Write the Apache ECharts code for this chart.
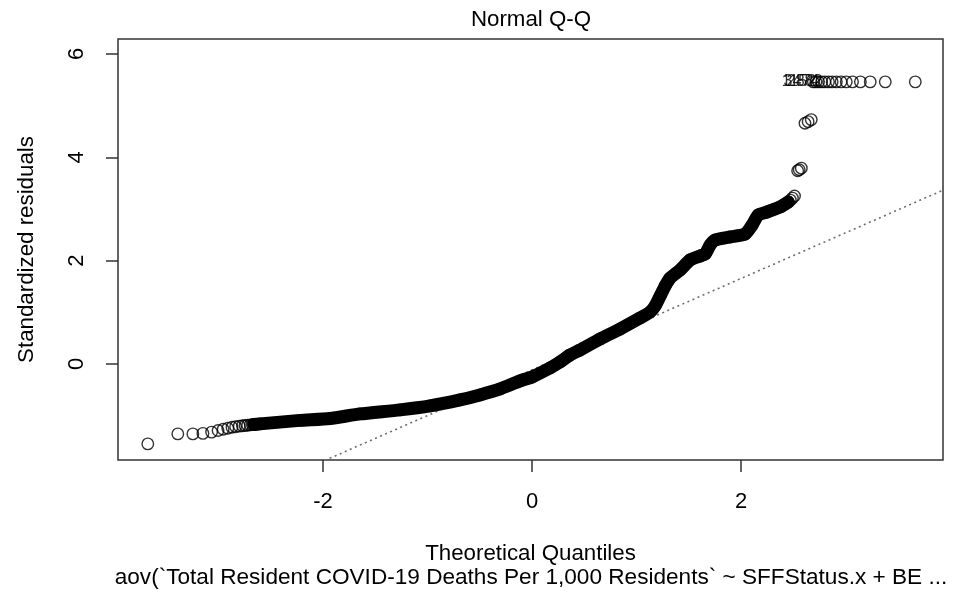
<!DOCTYPE html>
<html>
<head>
<meta charset="utf-8">
<script src="https://cdn.jsdelivr.net/npm/echarts@6/dist/echarts.min.js"></script>
<style>
    html, body { margin: 0; padding: 0; background: #fff; }
    #qq { width: 953px; height: 596px; }
</style>
</head>
<body>
<div id="qq"></div>
<script>
// values (theoretical quantile, standardized residual)

// lower tail, single circles
var lowX = [-3.675, -3.388, -3.244, -3.148, -3.065, -3.003, -2.954, -2.91, -2.87, -2.835, -2.80, -2.77, -2.745, -2.72, -2.695, -2.675, -2.655];
var lowY = [-1.548, -1.355, -1.355, -1.345, -1.32, -1.29, -1.265, -1.245, -1.225, -1.215, -1.205, -1.198, -1.192, -1.186, -1.18, -1.176, -1.172];

// the dense middle, where thousands of circles merge into one band
var bandX = [-2.66, -2.603, -2.22, -1.933, -1.646, -1.263, -0.976, -0.689, -0.498, -0.306, -0.115, 0, 0.172, 0.268, 0.364, 0.459, 0.651, 0.842, 1.033, 1.129, 1.177, 1.225, 1.273, 1.321, 1.416, 1.512, 1.608, 1.656, 1.703, 1.751, 1.895, 2.038, 2.105, 2.163, 2.249, 2.373, 2.45];
var bandY = [-1.172, -1.161, -1.093, -1.055, -0.968, -0.89, -0.813, -0.697, -0.6, -0.484, -0.329, -0.252, -0.077, 0.039, 0.174, 0.271, 0.484, 0.677, 0.89, 1.006, 1.123, 1.316, 1.51, 1.664, 1.819, 2.013, 2.09, 2.129, 2.303, 2.4, 2.458, 2.516, 2.69, 2.884, 2.942, 3.039, 3.135];

// upper tail, single circles and small clusters
var highX = [2.47, 2.49, 2.51, 2.54, 2.555, 2.575, 2.61, 2.64, 2.67,
             2.69, 2.715, 2.74, 2.77, 2.80, 2.835, 2.87, 2.91, 2.955, 3.005, 3.065, 3.14, 3.234, 3.378, 3.665];
var highY = [3.17, 3.21, 3.25, 3.74, 3.76, 3.79, 4.66, 4.69, 4.73,
             5.46, 5.46, 5.46, 5.46, 5.46, 5.46, 5.46, 5.46, 5.46, 5.46, 5.46, 5.46, 5.46, 5.46, 5.46];

// labelled extreme points
var idLabels = ['1152', '3474', '2882'];
var idX = [2.74, 2.77, 2.80];
var idY = [5.46, 5.46, 5.46];

// dotted qqline
var lineIntercept = -0.115;
var lineSlope = 0.885;

var xTicks = [-2, 0, 2];
var yTicks = [0, 2, 4, 6];

var font = '"Liberation Sans", Arial, sans-serif';

function pairs(xs, ys) {
    return xs.map(function (x, i) { return [x, ys[i]]; });
}

var xMin = -3.96, xMax = 3.93;

var chart = echarts.init(document.getElementById('qq'));

var option = {
    animation: false,
    grid: {
        left: 118, right: 10, top: 39, bottom: 136,
        show: true,
        borderColor: '#333',
        borderWidth: 1.5
    },
    xAxis: {
        type: 'value',
        min: xMin,
        max: xMax,
        axisLine: { show: false, onZero: false },
        splitLine: { show: false },
        axisTick: {
            customValues: xTicks,
            length: 12,
            lineStyle: { color: '#333', width: 1.5 }
        },
        axisLabel: {
            customValues: xTicks,
            margin: 31,
            fontSize: 22,
            fontFamily: font,
            color: '#000'
        },
        name: 'Theoretical Quantiles',
        nameLocation: 'middle',
        nameGap: 83,
        nameTextStyle: { fontSize: 22.3, fontFamily: font, color: '#000' }
    },
    yAxis: {
        type: 'value',
        min: -1.86,
        max: 6.29,
        axisLine: { show: false, onZero: false },
        splitLine: { show: false },
        axisTick: {
            customValues: yTicks,
            length: 12,
            lineStyle: { color: '#333', width: 1.5 }
        },
        axisLabel: {
            customValues: yTicks,
            rotate: 90,
            margin: 30,
            fontSize: 22,
            fontFamily: font,
            color: '#000'
        },
        name: 'Standardized residuals',
        nameLocation: 'middle',
        nameGap: 80,
        nameTextStyle: { fontSize: 22.3, fontFamily: font, color: '#000' }
    },
    graphic: [
        {
            type: 'text', x: 531, y: 20,
            style: {
                text: 'Normal Q-Q', textAlign: 'center', textVerticalAlign: 'middle',
                font: '22.3px ' + font, fill: '#000'
            }
        },
        {
            type: 'text', x: 531, y: 578,
            style: {
                text: 'aov(`Total Resident COVID-19 Deaths Per 1,000 Residents` ~ SFFStatus.x + BE ...',
                textAlign: 'center', textVerticalAlign: 'middle',
                font: '22.6px ' + font, fill: '#000'
            }
        }
    ],
    series: [
        {
            // qqline
            type: 'line',
            data: [[xMin, lineIntercept + lineSlope * xMin], [xMax, lineIntercept + lineSlope * xMax]],
            symbol: 'none',
            clip: true,
            lineStyle: { color: '#6e6e6e', width: 1.6, type: [2, 3.5] },
            z: 1
        },
        {
            type: 'line',
            data: pairs(bandX, bandY),
            symbol: 'none',
            smooth: 0.2,
            lineStyle: { color: '#000', width: 13, cap: 'round', join: 'round' },
            z: 2
        },
        {
            type: 'scatter',
            data: pairs(lowX, lowY).concat(pairs(bandX, bandY), pairs(highX, highY)),
            symbol: 'circle',
            symbolSize: 11.5,
            itemStyle: { color: 'rgba(0,0,0,0)', borderColor: '#000', borderWidth: 1.4 },
            z: 3
        },
        {
            type: 'scatter',
            data: pairs(idX, idY),
            symbolSize: 1,
            itemStyle: { color: 'rgba(0,0,0,0)' },
            label: {
                show: true,
                position: 'left',
                distance: 2,
                fontSize: 16,
                fontFamily: font,
                color: '#000',
                formatter: function (p) { return idLabels[p.dataIndex]; }
            },
            z: 4
        }
    ]
};

chart.setOption(option);
</script>
</body>
</html>
